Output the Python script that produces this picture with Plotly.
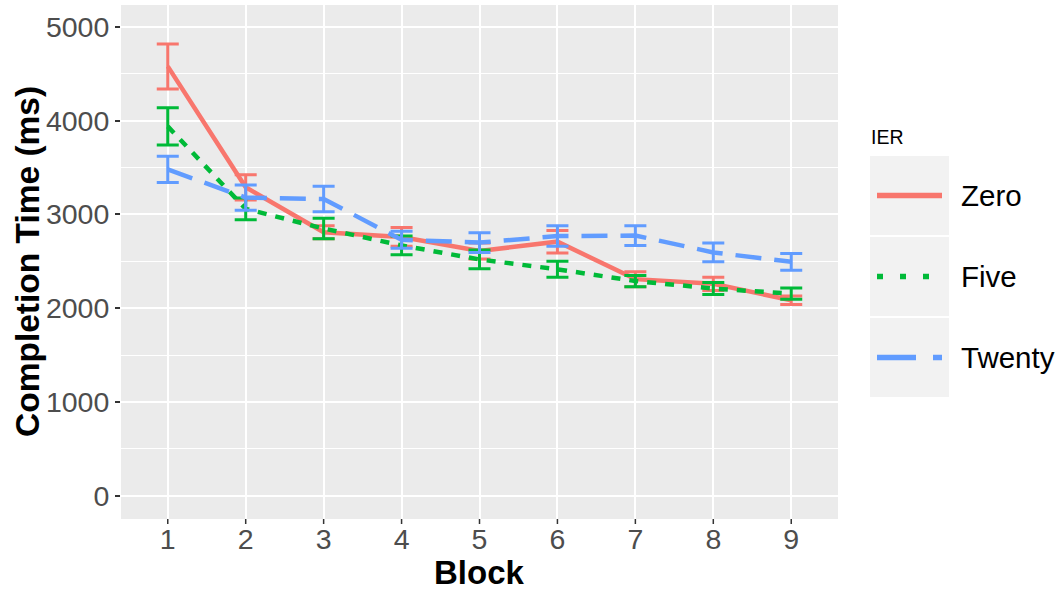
import plotly.graph_objects as go

# ---- data ----
blocks = [1, 2, 3, 4, 5, 6, 7, 8, 9]
series_names = ["Zero", "Five", "Twenty"]
zero_mean = [4580, 3290, 2810, 2760, 2610, 2710, 2310, 2260, 2085]
zero_err = [240, 135, 70, 100, 85, 120, 80, 70, 45]
five_mean = [3940, 3060, 2850, 2670, 2520, 2415, 2290, 2210, 2155]
five_err = [200, 115, 110, 100, 100, 85, 60, 65, 60]
twenty_mean = [3480, 3180, 3165, 2730, 2700, 2770, 2775, 2595, 2495]
twenty_err = [140, 135, 135, 90, 105, 110, 105, 100, 90]
y_ticks = [0, 1000, 2000, 3000, 4000, 5000]

colors = ["#F8766D", "#00BA38", "#619CFF"]
dashes = ["solid", "9px,9px", "26px,13px"]
means = [zero_mean, five_mean, twenty_mean]
errs = [zero_err, five_err, twenty_err]

FONT = "Liberation Sans, Arial, sans-serif"

fig = go.Figure()
for name, m, e, c, d in zip(series_names, means, errs, colors, dashes):
    fig.add_trace(go.Scatter(
        x=blocks, y=m, mode="lines", name=name,
        line=dict(color=c, width=4.5, dash=d),
        error_y=dict(type="data", array=e, visible=True, color=c,
                     thickness=3, width=11),
        showlegend=False,
    ))

L, R, T, B = 121, 222, 5, 71
W, H = 1060, 590
pw, ph = W - L - R, H - T - B

def px_x(x):
    return (x - L) / pw

def px_y(y):
    return (H - B - y) / ph

shapes = []
annotations = []

# x-axis tick marks (outside, ggplot style) at each block position
for b in blocks:
    shapes.append(dict(type="line", xref="x", yref="paper", x0=b, x1=b,
                       y0=0, y1=-5 / ph, line=dict(color="#333333", width=1.5)))

# manual legend (ggplot style)
annotations.append(dict(text="IER", x=px_x(869), y=px_y(137), xref="paper", yref="paper",
                        xanchor="left", yanchor="middle", showarrow=False,
                        font=dict(size=19.5, color="#000000", family=FONT)))
box_tops = [156, 237, 318]
for i, (name, c, d) in enumerate(zip(series_names, colors, dashes)):
    y0 = box_tops[i]
    y1 = y0 + 79
    shapes.append(dict(type="rect", xref="paper", yref="paper",
                       x0=px_x(870), x1=px_x(949), y0=px_y(y1), y1=px_y(y0),
                       fillcolor="#F2F2F2", line=dict(width=0), layer="below"))
    yc = (y0 + y1) / 2
    shapes.append(dict(type="line", xref="paper", yref="paper",
                       x0=px_x(877), x1=px_x(942), y0=px_y(yc), y1=px_y(yc),
                       line=dict(color=c, width=5.5,
                                 dash=["solid", "6px,17px", "39px,17px"][i])))
    annotations.append(dict(text=name, x=px_x(959), y=px_y(yc), xref="paper", yref="paper",
                            xanchor="left", yanchor="middle", showarrow=False,
                            font=dict(size=29.5, color="#000000", family=FONT)))

# axis titles
annotations.append(dict(text="<b>Block</b>", x=0.5, y=px_y(572), xref="paper", yref="paper",
                        xanchor="center", yanchor="middle", showarrow=False,
                        font=dict(size=33, color="#000000", family=FONT)))
annotations.append(dict(text="<b>Completion Time (ms)</b>", x=px_x(27), y=px_y(262),
                        xref="paper", yref="paper", textangle=-90,
                        xanchor="center", yanchor="middle", showarrow=False,
                        font=dict(size=33.5, color="#000000", family=FONT)))

fig.update_layout(
    width=W, height=H,
    margin=dict(l=L, r=R, t=T, b=B, pad=0),
    paper_bgcolor="#FFFFFF",
    plot_bgcolor="#EBEBEB",
    font=dict(family=FONT),
    shapes=shapes,
    annotations=annotations,
    xaxis=dict(range=[0.4, 9.6], tickmode="array", tickvals=blocks,
               ticktext=[str(b) for b in blocks],
               showgrid=True, gridcolor="#FFFFFF", gridwidth=2,
               zeroline=False, showline=False,
               ticks="",
               tickfont=dict(size=28.5, color="#4D4D4D", family=FONT)),
    yaxis=dict(range=[-249, 5235], tickmode="array", tickvals=y_ticks,
               showgrid=True, gridcolor="#FFFFFF", gridwidth=2,
               minor=dict(tickmode="array", tickvals=[500, 1500, 2500, 3500, 4500],
                          showgrid=True, gridcolor="#FFFFFF", gridwidth=1, ticks=""),
               zeroline=False, showline=False,
               ticks="outside", ticklen=5, tickwidth=1.5, tickcolor="#333333",
               tickfont=dict(size=28.5, color="#4D4D4D", family=FONT)),
)

fig.write_html("out.html")
